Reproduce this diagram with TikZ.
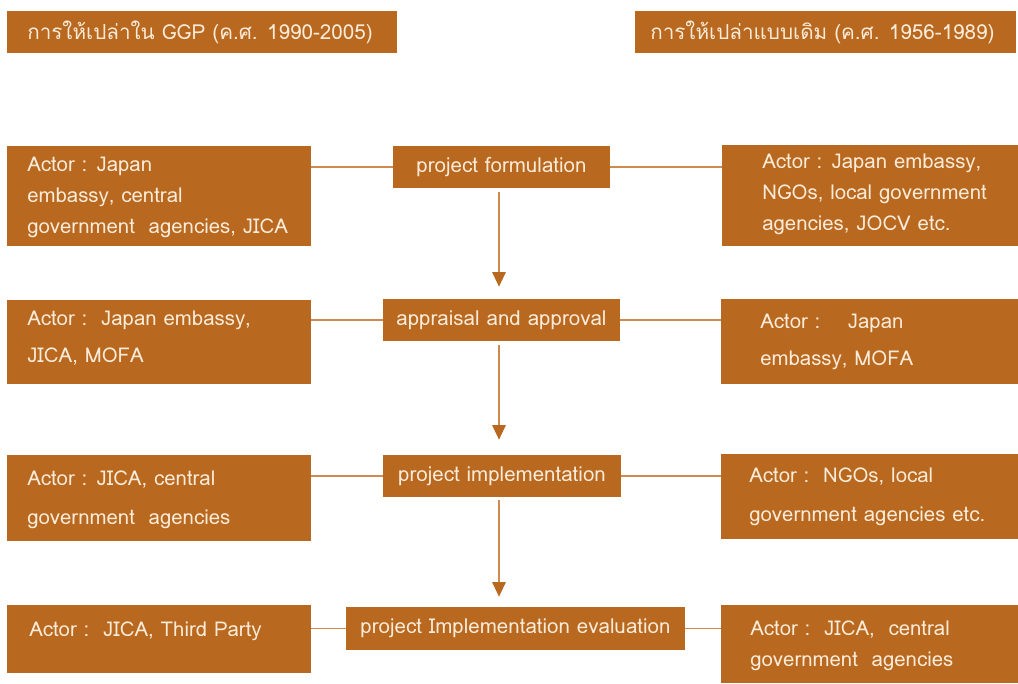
\documentclass[tikz,border=0pt]{standalone}
\usepackage{fontspec}
\setmainfont[Script=Thai]{Loma}
\usetikzlibrary{arrows.meta}
\definecolor{boxc}{HTML}{B8681F}
\definecolor{txtc}{HTML}{FBEBD8}
\definecolor{linec}{HTML}{CD8B4F}
\tikzset{
  box/.style={draw=none, fill=boxc, inner sep=0pt, rectangle},
  lbl/.style={text=txtc, inner sep=0pt, align=left, font=\fontsize{15.3}{#1}\selectfont},
  lbl/.default=23.25,
  hlbl/.style={text=txtc, inner sep=0pt, font=\fontsize{15.5}{18}\selectfont},
  clbl/.style={text=txtc, inner sep=0pt, font=\fontsize{15.4}{18}\selectfont},
  link/.style={draw=linec, line width=1.1pt},
  flow/.style={draw=linec, line width=1.5pt, -{Triangle[width=10pt,length=11pt,color=boxc]}}
}
\begin{document}
\begin{tikzpicture}[x=0.75pt,y=-0.75pt]
\useasboundingbox (0,0) rectangle (1018,684);
% headers
\node[box, minimum width=292.5pt, minimum height=31.5pt] (H1) at (202,32) {};
\node[box, minimum width=285.75pt, minimum height=31.5pt] (H2) at (825.5,32) {};
\node[hlbl, anchor=west] (H1t) at (27,32) {การให้เปล่าใน GGP (ค.ศ. 1990-2005)};
\node[hlbl, anchor=west] (H2t) at (650,32) {การให้เปล่าแบบเดิม (ค.ศ. 1956-1989)};
% row 1
\node[box, minimum width=228pt, minimum height=75pt] (L1) at (159,196) {};
\node[box, minimum width=162.75pt, minimum height=31.5pt] (C1) at (501.5,167) {};
\node[box, minimum width=222pt, minimum height=75.75pt] (R1) at (870,195.5) {};
% row 2
\node[box, minimum width=228pt, minimum height=63pt] (L2) at (159,342) {};
\node[box, minimum width=177.75pt, minimum height=31.5pt] (C2) at (501.5,320) {};
\node[box, minimum width=222.75pt, minimum height=63.75pt] (R2) at (869.5,341.5) {};
% row 3
\node[box, minimum width=228pt, minimum height=64.5pt] (L3) at (159,498) {};
\node[box, minimum width=178.5pt, minimum height=31.5pt] (C3) at (502,476) {};
\node[box, minimum width=222.75pt, minimum height=63.75pt] (R3) at (869.5,496.5) {};
% row 4
\node[box, minimum width=228pt, minimum height=51pt] (L4) at (159,639) {};
\node[box, minimum width=254.25pt, minimum height=32.25pt] (C4) at (515.5,628.5) {};
\node[box, minimum width=222.75pt, minimum height=58.5pt] (R4) at (869.5,644) {};
% centre labels
\node[clbl] (C1t) at (C1) {project formulation};
\node[clbl] (C2t) at (C2) {appraisal and approval};
\node[clbl] (C3t) at (C3) {project implementation};
\node[clbl] (C4t) at (C4) {project Implementation evaluation};
% actor labels
\node[lbl, anchor=west] (L1t) at (27,197) {Actor : Japan\\embassy, central\\government\ \ agencies, JICA};
\node[lbl, anchor=west] (R1t) at (762,194.5) {Actor : Japan embassy,\\NGOs, local government\\agencies, JOCV etc.};
\node[lbl=27.75, anchor=west] (L2t) at (27,338.5) {Actor :\ \ Japan embassy,\\JICA, MOFA};
\node[lbl=27.75, anchor=west] (R2t) at (760,341.5) {Actor :\ \ \ \ Japan\\embassy, MOFA};
\node[lbl=29.25, anchor=west] (L3t) at (27,499.5) {Actor : JICA, central\\government\ \ agencies};
\node[lbl=29.25, anchor=west] (R3t) at (749,496.5) {Actor :\ \ NGOs, local\\government agencies etc.};
\node[lbl, anchor=west] (L4t) at (29,631) {Actor :\ \ JICA, Third Party};
\node[lbl, anchor=west] (R4t) at (750,645.5) {Actor :\ \ JICA,\ \ central\\government\ \ agencies};
% horizontal links
\draw[link] (L1.east |- C1.west) -- (C1.west);
\draw[link] (C1.east) -- (R1.west |- C1.east);
\draw[link] (L2.east |- C2.west) -- (C2.west);
\draw[link] (C2.east) -- (R2.west |- C2.east);
\draw[link] (L3.east |- C3.west) -- (C3.west);
\draw[link] (C3.east) -- (R3.west |- C3.east);
\draw[link] (L4.east |- C4.west) -- (C4.west);
\draw[link] (C4.east) -- (R4.west |- C4.east);
% flow arrows
\draw[flow, shorten <=3pt, shorten >=9pt] (C1.south -| 499,0) -- (C2.north -| 499,0);
\draw[flow, shorten <=3pt, shorten >=11.25pt] (C2.south -| 499,0) -- (C3.north -| 499,0);
\draw[flow, shorten <=2.25pt, shorten >=7.5pt] (C3.south -| 499,0) -- (C4.north -| 499,0);
\end{tikzpicture}
\end{document}
